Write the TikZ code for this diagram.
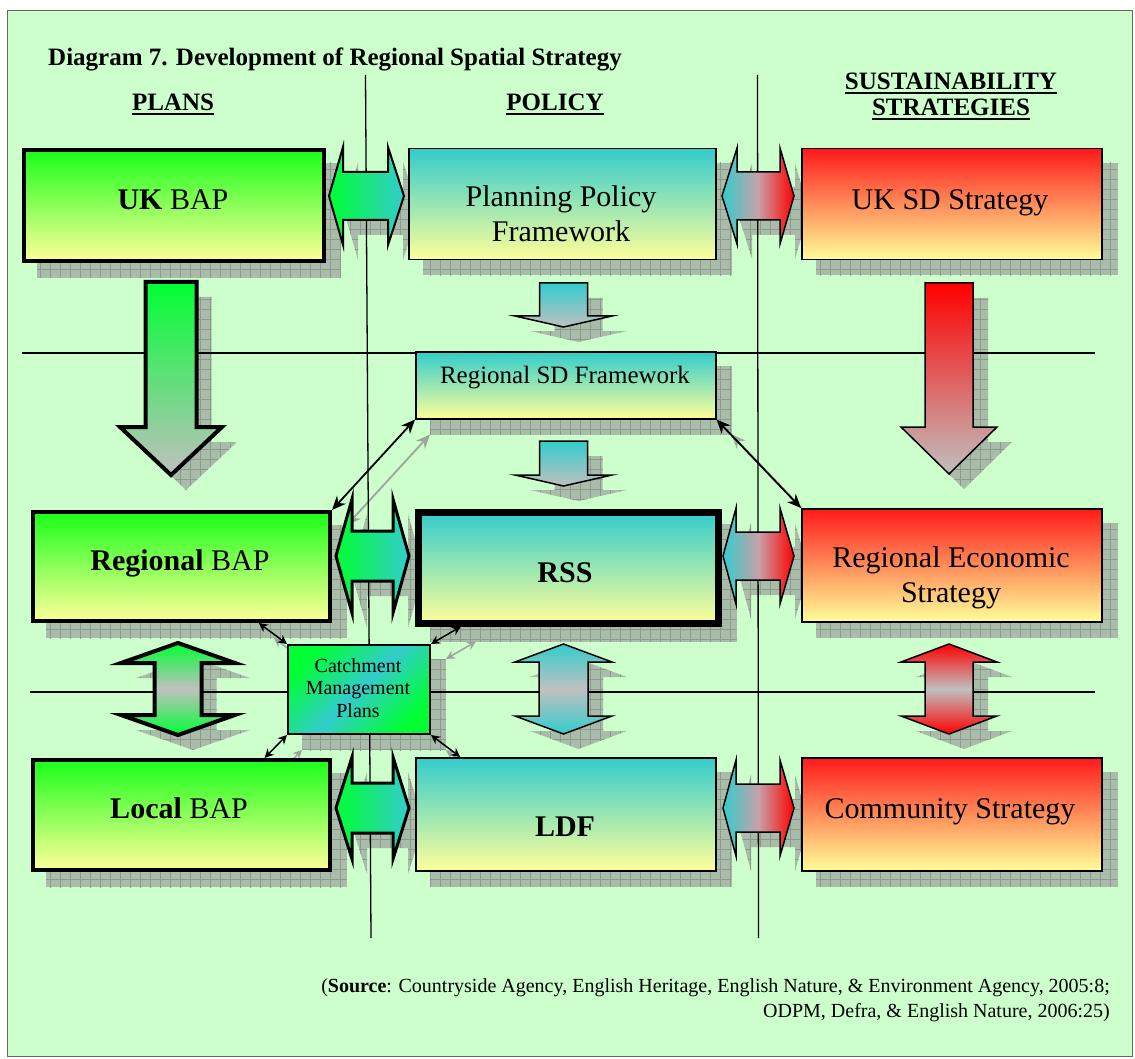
\documentclass[tikz,border=0pt]{standalone}
\usepackage{fontspec}
\setmainfont{Liberation Serif}
\usetikzlibrary{patterns.meta,arrows.meta,calc}
\definecolor{bgc}{HTML}{CCFFCC}
\definecolor{gtop}{HTML}{1AFF1A}
\definecolor{agrn}{HTML}{00FF33}
\definecolor{ybot}{HTML}{FFFF99}
\definecolor{cyn}{HTML}{33CCCC}
\definecolor{rtop}{HTML}{FF1A1A}
\definecolor{ared}{HTML}{FF0000}
\definecolor{gry}{HTML}{C0C0C0}
\definecolor{pnk}{HTML}{C8A0A8}
\definecolor{shd}{HTML}{A9BCA9}
\definecolor{shdl}{HTML}{8C998C}
\definecolor{cshd}{HTML}{9AA89A}
\definecolor{frm}{HTML}{666666}
\pgfdeclarelayer{bglayer}
\pgfdeclarelayer{shadowlayer}
\pgfdeclarelayer{linelayer}
\pgfsetlayers{bglayer,shadowlayer,linelayer,main}
\tikzset{
  shadowst/.style={fill=shd, postaction={pattern={Hatch[distance=10pt,line width=0.5pt]}, pattern color=shdl}},
  boxbase/.style={draw=black, rectangle, inner sep=0pt, anchor=north west},
  thinb/.style={boxbase, line width=1.5pt},
  thickb/.style={boxbase, line width=4pt},
  greenbox/.style={thickb, top color=gtop, bottom color=ybot},
  cyanbox/.style={thinb, top color=cyn, bottom color=ybot},
  redbox/.style={thinb, top color=rtop, bottom color=ybot},
  rssbox/.style={boxbase, line width=6.5pt, top color=cyn, bottom color=ybot},
  cmpbox/.style={boxbase, line width=2pt, top color=agrn, bottom color=agrn, middle color=cyn, shading angle=45},
  harrA/.style={draw=black, line width=2pt, left color=agrn, right color=cyn},
  harrB/.style={draw=black, line width=3pt, left color=agrn, right color=cyn},
  harrR/.style={draw=black, line width=1.5pt, left color=cyn, right color=ared, middle color=pnk},
  dgreen/.style={draw=black, line width=4pt, top color=agrn, bottom color=gry},
  dred/.style={draw=black, line width=1.5pt, top color=ared, bottom color=gry},
  dcyan/.style={draw=black, line width=1.5pt, top color=cyn, bottom color=gry},
  vgreen/.style={draw=black, line width=4pt, top color=agrn, bottom color=agrn, middle color=gry},
  vcyan/.style={draw=black, line width=1.5pt, top color=cyn, bottom color=cyn, middle color=gry},
  vred/.style={draw=black, line width=1.5pt, top color=ared, bottom color=ared, middle color=gry},
  conn/.style={line width=1.8pt, <->, >={Stealth[length=14pt,width=12pt]}},
  sconn/.style={line width=1.5pt, <->, >={Stealth[length=9pt,width=9pt]}},
  connshd/.style={draw=cshd},
  gridline/.style={draw=black, line width=1.3pt},
  t30/.style={font=\fontsize{30}{35}\selectfont, inner sep=0pt, align=center},
  t25/.style={font=\fontsize{25}{29}\selectfont, inner sep=0pt, align=center},
  t20/.style={font=\fontsize{20}{22.5}\selectfont, inner sep=0pt, align=center},
  hdr/.style={font=\bfseries\fontsize{25}{28}\selectfont, inner sep=0pt},
  uline/.style={draw=black, line width=2pt}
}
% box: name, style, x1, y1, x2, y2
\newcommand\mkbox[6]{%
  \node[#2, minimum width={#5-#3}, minimum height={#6-#4}] (#1) at (#3,#4) {};
  \begin{pgfonlayer}{shadowlayer}
    \fill[shadowst] ([shift={(15,15)}]#1.north west) rectangle ([shift={(15,15)}]#1.south east);
  \end{pgfonlayer}}
% horizontal double arrow: style, tipL, baseL, baseR, tipR, cy, head half, shaft half
\newcommand\HArr[8]{%
  \begin{pgfonlayer}{shadowlayer}
  \fill[shadowst,shift={(15,15)}] (#2,#6) -- (#3,#6-#7) -- (#3,#6-#8) -- (#4,#6-#8) -- (#4,#6-#7) -- (#5,#6) -- (#4,#6+#7) -- (#4,#6+#8) -- (#3,#6+#8) -- (#3,#6+#7) -- cycle;
  \end{pgfonlayer}
  \draw[#1] (#2,#6) -- (#3,#6-#7) -- (#3,#6-#8) -- (#4,#6-#8) -- (#4,#6-#7) -- (#5,#6) -- (#4,#6+#7) -- (#4,#6+#8) -- (#3,#6+#8) -- (#3,#6+#7) -- cycle;}
% vertical double arrow: style, cx, tipT, baseT, baseB, tipB, head half, shaft half
\newcommand\VArr[8]{%
  \begin{pgfonlayer}{shadowlayer}
  \fill[shadowst,shift={(15,15)}] (#2,#3) -- (#2+#7,#4) -- (#2+#8,#4) -- (#2+#8,#5) -- (#2+#7,#5) -- (#2,#6) -- (#2-#7,#5) -- (#2-#8,#5) -- (#2-#8,#4) -- (#2-#7,#4) -- cycle;
  \end{pgfonlayer}
  \draw[#1] (#2,#3) -- (#2+#7,#4) -- (#2+#8,#4) -- (#2+#8,#5) -- (#2+#7,#5) -- (#2,#6) -- (#2-#7,#5) -- (#2-#8,#5) -- (#2-#8,#4) -- (#2-#7,#4) -- cycle;}
% down arrow: style, cx, top, base, tip, head half, shaft half
\newcommand\DArr[7]{%
  \begin{pgfonlayer}{shadowlayer}
  \fill[shadowst,shift={(15,15)}] (#2-#7,#3) -- (#2+#7,#3) -- (#2+#7,#4) -- (#2+#6,#4) -- (#2,#5) -- (#2-#6,#4) -- (#2-#7,#4) -- cycle;
  \end{pgfonlayer}
  \draw[#1] (#2-#7,#3) -- (#2+#7,#3) -- (#2+#7,#4) -- (#2+#6,#4) -- (#2,#5) -- (#2-#6,#4) -- (#2-#7,#4) -- cycle;}
% connector with shadow: style, from, to
\newcommand\Conn[3]{%
  \begin{pgfonlayer}{shadowlayer}
  \draw[#1, connshd] ([shift={(15,15)}]#2) -- ([shift={(15,15)}]#3);
  \end{pgfonlayer}
  \draw[#1] (#2) -- (#3);}

\begin{document}
\begin{tikzpicture}[x=1pt,y=-1pt]
\useasboundingbox (0,0) rectangle (1135,1059);
\begin{pgfonlayer}{bglayer}
  \fill[white] (0,0) rectangle (1135,1059);
  \fill[bgc] (7,11) rectangle (1132,1056);
  \draw[frm, line width=1pt] (7,11) rectangle (1132,1056);
\end{pgfonlayer}

% grid lines
\begin{pgfonlayer}{linelayer}
  \draw[gridline] (365.5,75) -- (371,938);
  \draw[gridline] (757.5,75) -- (758.5,938);
  \draw[gridline] (22,353) -- (1095,353);
  \draw[gridline] (30,692) -- (1095,692);
\end{pgfonlayer}

% title and headers
\node[anchor=base west, inner sep=0pt, font=\bfseries\fontsize{25}{28}\selectfont] (title) at (48,66) {Diagram 7. Development of Regional Spatial Strategy};
\node[hdr, anchor=base] (plans) at (173,111) {PLANS};
\node[hdr, anchor=base] (policy) at (555,111) {POLICY};
\node[hdr, anchor=base] (sust) at (951,90) {SUSTAINABILITY};
\node[hdr, anchor=base] (strat) at (951,116) {STRATEGIES};
\foreach \h in {plans,policy,sust,strat}
  \draw[uline] ([yshift=-3.5pt]\h.base west) -- ([yshift=-3.5pt]\h.base east);

% boxes
\mkbox{ukbap}{greenbox}{22}{148}{322}{259}
\mkbox{ppf}{cyanbox}{408}{148}{715}{259}
\mkbox{uksd}{redbox}{801}{148}{1101}{259}
\mkbox{rsdf}{cyanbox}{415}{351}{715}{418}
\mkbox{rbap}{greenbox}{31}{510}{328}{619}
\mkbox{rss}{rssbox}{415}{509}{715}{620}
\mkbox{res}{redbox}{801}{508}{1101}{621}
\mkbox{lbap}{greenbox}{31}{758}{328}{868}
\mkbox{ldf}{cyanbox}{415}{757}{715}{870}
\mkbox{cs}{redbox}{801}{757}{1101}{870}
\mkbox{cmp}{cmpbox}{287}{644}{429}{733}

% box texts
\node[t30] (ukbapt) at (173,200) {\textbf{UK} BAP};
\node[t30] (ppft) at (561,214) {Planning Policy\\Framework};
\node[t30, anchor=base] (uksdt) at (950,210) {UK SD Strategy};
\node[t25, anchor=base] (rsdft) at (565,383) {Regional SD Framework};
\node[t30, anchor=base] (rbapt) at (180,570) {\textbf{Regional} BAP};
\node[t30, anchor=base] (rsst) at (565,582) {\textbf{RSS}};
\node[t30] (rest) at (951,578) {Regional Economic\\Strategy};
\node[t30, anchor=base] (lbapt) at (179,818) {\textbf{Local} BAP};
\node[t30, anchor=base] (ldft) at (565,836) {\textbf{LDF}};
\node[t30, anchor=base] (cst) at (950,818) {Community Strategy};
\node[t20] (cmpt) at (358,688) {Catchment\\Management\\Plans};

% horizontal double arrows
\HArr{harrA}{329}{343}{388}{404}{196}{49}{24}
\HArr{harrR}{722}{737}{780}{794}{196}{48}{24}
\HArr{harrB}{336}{352}{393}{409}{556}{57}{25}
\HArr{harrR}{723}{736}{780}{794}{556}{48}{24}
\HArr{harrB}{336}{352}{393}{409}{808}{51}{25}
\HArr{harrR}{723}{736}{780}{794}{808}{48}{24}

% down arrows
\DArr{dgreen}{171}{282}{427}{475}{51}{25.5}
\DArr{dred}{949}{283}{427}{474}{48}{24}
\DArr{dcyan}{563.5}{283}{316}{327}{48.5}{24}
\DArr{dcyan}{563.5}{441}{475}{486}{48.5}{24}

% vertical double arrows
\VArr{vgreen}{178}{643}{663}{715}{735}{57}{23.5}
\VArr{vcyan}{563.5}{644}{662}{716}{734}{48.5}{24.5}
\VArr{vred}{949}{644}{662}{716}{734}{48}{24}

% connector end points on box edges
\coordinate (rbapC) at ($(rbap.south west)!0.757!(rbap.south east)$);
\coordinate (rssC) at ($(rss.south west)!0.15!(rss.south east)$);
\coordinate (lbapC) at ($(lbap.north west)!0.776!(lbap.north east)$);
\coordinate (ldfC) at ($(ldf.north west)!0.15!(ldf.north east)$);

% connectors
\Conn{conn}{rbap.north east}{rsdf.south west}
\Conn{conn}{rsdf.south east}{res.north west}
\Conn{sconn}{cmp.north west}{rbapC}
\Conn{sconn}{cmp.north east}{rssC}
\Conn{sconn}{cmp.south west}{lbapC}
\Conn{sconn}{cmp.south east}{ldfC}

% source
\node[anchor=north east, inner sep=0pt, align=right, font=\fontsize{20}{25}\selectfont] (src) at (1110,978)
  {(\textbf{Source}: Countryside Agency, English Heritage, English Nature, \& Environment Agency, 2005:8;\\
   ODPM, Defra, \& English Nature, 2006:25)};
\end{tikzpicture}
\end{document}
